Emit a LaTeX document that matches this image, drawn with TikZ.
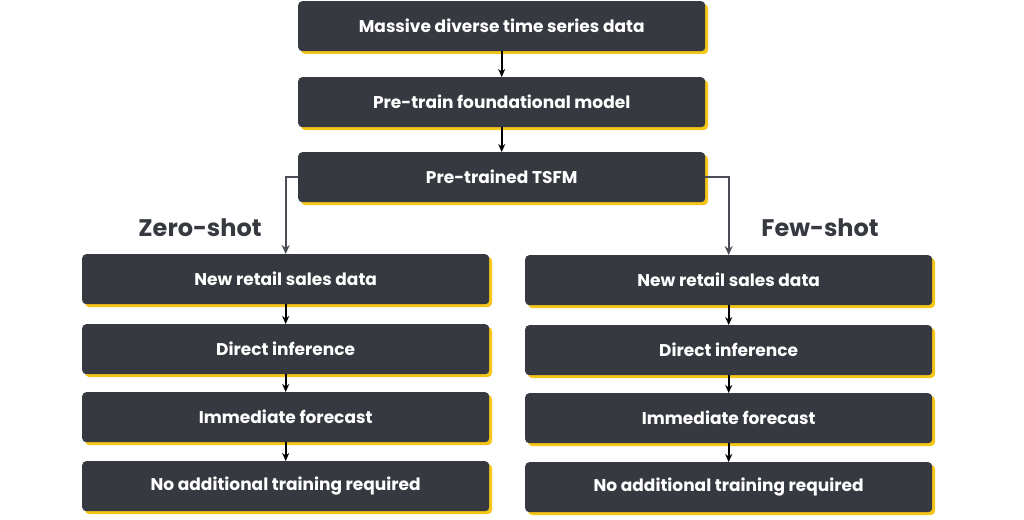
\documentclass[tikz,border=0pt]{standalone}
\usepackage{fontspec}
\setmainfont{Poppins}
\usetikzlibrary{arrows.meta}
\definecolor{boxc}{HTML}{363A40}
\definecolor{shad}{HTML}{F5C518}
\definecolor{linec}{HTML}{4A4E54}
\tikzset{
  bx/.style={fill=boxc, rounded corners=4pt, text=white, font=\fontsize{17}{20}\selectfont\bfseries,
    minimum width=407pt, minimum height=50pt, inner sep=0pt, anchor=north west},
  arr/.style={-{Stealth[length=8pt,width=7pt]}, line width=1.6pt, black},
  garr/.style={-{Stealth[length=9pt,width=8pt]}, line width=2pt, linec},
  lab/.style={font=\fontsize{24}{28}\selectfont\bfseries, text=boxc}
}
\newcommand{\mybox}[4]{%
  \fill[shad, rounded corners=4pt] (#2+3pt,-#3-3pt) rectangle ++(407pt,-50pt);
  \node[bx] (#1) at (#2,-#3) {#4};}
\begin{document}
\begin{tikzpicture}[x=1pt,y=1pt]
\useasboundingbox (0,0) rectangle (1024,-519);
\mybox{a}{298}{1}{Massive diverse time series data}
\mybox{b}{298}{77}{Pre-train foundational model}
\mybox{c}{298}{152}{Pre-trained TSFM}
\mybox{l1}{82}{254}{New retail sales data}
\mybox{l2}{82}{324}{Direct inference}
\mybox{l3}{82}{392}{Immediate forecast}
\mybox{l4}{82}{461}{No additional training required}
\mybox{r1}{525}{255}{New retail sales data}
\mybox{r2}{525}{325}{Direct inference}
\mybox{r3}{525}{393}{Immediate forecast}
\mybox{r4}{525}{462}{No additional training required}
\node[lab] (zs) at (200,-228) {Zero-shot};
\node[lab] (fs) at (820,-228) {Few-shot};
\draw[arr] (a.south) -- (b.north);
\draw[arr] (b.south) -- (c.north);
\draw[garr] (c.west) -| (l1.north);
\draw[garr] (c.east) -| (r1.north);
\foreach \u/\v in {l1/l2,l2/l3,l3/l4,r1/r2,r2/r3,r3/r4}{\draw[arr] (\u.south) -- (\v.north);}
\end{tikzpicture}
\end{document}
